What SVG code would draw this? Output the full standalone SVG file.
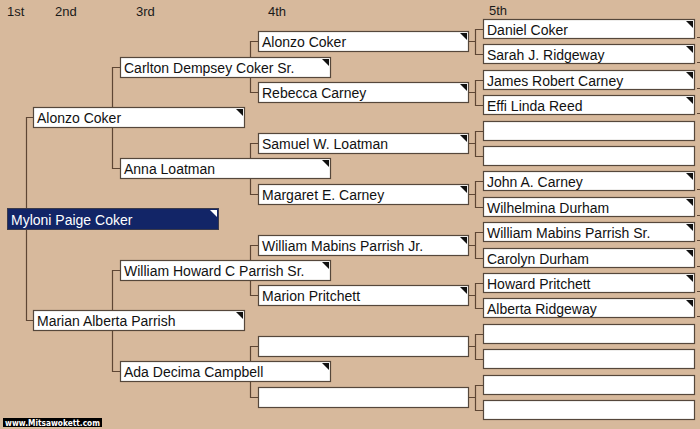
<svg xmlns="http://www.w3.org/2000/svg" width="700" height="429" viewBox="0 0 700 429">
<style>
.bg{fill:#d7b99c}
.hdr{font-family:"Liberation Sans",Arial,sans-serif;font-size:13px;fill:#1a1a1a}
.box{fill:#ffffff;stroke:#55473b;stroke-width:1.2}
.self{fill:#122567;stroke:#3a3a4a;stroke-width:1}
.nm{font-family:"Liberation Sans",Arial,sans-serif;font-size:14px;fill:#111111}
.nmw{font-family:"Liberation Sans",Arial,sans-serif;font-size:14px;fill:#ffffff}
.tri{fill:#111111}
.triw{fill:#ffffff}
.con{fill:none;stroke:#5e4634;stroke-width:1.2}
.wm{font-family:"DejaVu Sans",Verdana,sans-serif;font-size:8px;font-weight:bold;fill:#ffffff}
</style>
<rect class="bg" x="0" y="0" width="700" height="429"/>
<g id="headers">
<text class="hdr" x="7" y="16">1st</text>
<text class="hdr" x="55" y="16">2nd</text>
<text class="hdr" x="136" y="16">3rd</text>
<text class="hdr" x="268" y="16">4th</text>
<text class="hdr" x="489" y="15">5th</text>
</g>
<g id="connectors">
<path class="con" d="M33 117.5H26.5V320.5H33"/>
<path class="con" d="M120 67.5H112.5V168.5H120M120 270.5H112.5V371.5H120"/>
<path class="con" d="M258 41.5H250.5V92.5H258M258 143.5H250.5V194.5H258M258 245.5H250.5V295.5H258M258 346.5H250.5V397.5H258"/>
<path class="con" d="M468 41.5H475.5M483 29.5H475.5V54.5H483"/>
<path class="con" d="M468 92.5H475.5M483 80.5H475.5V105.5H483"/>
<path class="con" d="M468 143.5H475.5M483 131.5H475.5V156.5H483"/>
<path class="con" d="M468 194.5H475.5M483 181.5H475.5V207.5H483"/>
<path class="con" d="M468 245.5H475.5M483 232.5H475.5V258.5H483"/>
<path class="con" d="M468 295.5H475.5M483 283.5H475.5V308.5H483"/>
<path class="con" d="M468 346.5H475.5M483 334.5H475.5V359.5H483"/>
<path class="con" d="M468 397.5H475.5M483 385.5H475.5V410.5H483"/>
<path class="con" d="M697 37.5H700M697 62.5H700M697 88.5H700M697 113.5H700M697 189.5H700M697 215.5H700M697 240.5H700M697 266.5H700M697 291.5H700M697 316.5H700"/>
</g>
<g id="p1">
<rect class="self" x="7.5" y="208.5" width="211" height="21"/>
<polygon class="triw" points="210,210 217,210 217,217"/>
<text class="nmw" x="11" y="224.5">Myloni Paige Coker</text>
</g>
<g id="p2">
<rect class="box" x="33.5" y="107.5" width="211" height="20"/>
<polygon class="tri" points="236,109 243,109 243,116"/>
<text class="nm" x="37" y="122.5">Alonzo Coker</text>
</g>
<g id="p3">
<rect class="box" x="33.5" y="310.5" width="211" height="20"/>
<polygon class="tri" points="236,312 243,312 243,319"/>
<text class="nm" x="37" y="325.5">Marian Alberta Parrish</text>
</g>
<g id="p4">
<rect class="box" x="120.5" y="57.5" width="210" height="20"/>
<polygon class="tri" points="322,59 329,59 329,66"/>
<text class="nm" x="124" y="72.5">Carlton Dempsey Coker Sr.</text>
</g>
<g id="p5">
<rect class="box" x="120.5" y="158.5" width="210" height="20"/>
<polygon class="tri" points="322,160 329,160 329,167"/>
<text class="nm" x="124" y="173.5">Anna Loatman</text>
</g>
<g id="p6">
<rect class="box" x="120.5" y="260.5" width="210" height="20"/>
<polygon class="tri" points="322,262 329,262 329,269"/>
<text class="nm" x="124" y="275.5">William Howard C Parrish Sr.</text>
</g>
<g id="p7">
<rect class="box" x="120.5" y="361.5" width="210" height="20"/>
<polygon class="tri" points="322,363 329,363 329,370"/>
<text class="nm" x="124" y="376.5">Ada Decima Campbell</text>
</g>
<g id="p8">
<rect class="box" x="258.5" y="31.5" width="210" height="20"/>
<polygon class="tri" points="460,33 467,33 467,40"/>
<text class="nm" x="262" y="46.5">Alonzo Coker</text>
</g>
<g id="p9">
<rect class="box" x="258.5" y="82.5" width="210" height="20"/>
<polygon class="tri" points="460,84 467,84 467,91"/>
<text class="nm" x="262" y="97.5">Rebecca Carney</text>
</g>
<g id="p10">
<rect class="box" x="258.5" y="133.5" width="210" height="20"/>
<polygon class="tri" points="460,135 467,135 467,142"/>
<text class="nm" x="262" y="148.5">Samuel W. Loatman</text>
</g>
<g id="p11">
<rect class="box" x="258.5" y="184.5" width="210" height="20"/>
<polygon class="tri" points="460,186 467,186 467,193"/>
<text class="nm" x="262" y="199.5">Margaret E. Carney</text>
</g>
<g id="p12">
<rect class="box" x="258.5" y="235.5" width="210" height="20"/>
<polygon class="tri" points="460,237 467,237 467,244"/>
<text class="nm" x="262" y="250.5">William Mabins Parrish Jr.</text>
</g>
<g id="p13">
<rect class="box" x="258.5" y="285.5" width="210" height="20"/>
<polygon class="tri" points="460,287 467,287 467,294"/>
<text class="nm" x="262" y="300.5">Marion Pritchett</text>
</g>
<g id="p14">
<rect class="box" x="258.5" y="336.5" width="210" height="20"/>
</g>
<g id="p15">
<rect class="box" x="258.5" y="387.5" width="210" height="20"/>
</g>
<g id="p16">
<rect class="box" x="483.5" y="19.5" width="211" height="19"/>
<polygon class="tri" points="686,21 693,21 693,28"/>
<text class="nm" x="487" y="34.5">Daniel Coker</text>
</g>
<g id="p17">
<rect class="box" x="483.5" y="44.5" width="211" height="19"/>
<polygon class="tri" points="686,46 693,46 693,53"/>
<text class="nm" x="487" y="59.5">Sarah J. Ridgeway</text>
</g>
<g id="p18">
<rect class="box" x="483.5" y="70.5" width="211" height="19"/>
<polygon class="tri" points="686,72 693,72 693,79"/>
<text class="nm" x="487" y="85.5">James Robert Carney</text>
</g>
<g id="p19">
<rect class="box" x="483.5" y="95.5" width="211" height="19"/>
<polygon class="tri" points="686,97 693,97 693,104"/>
<text class="nm" x="487" y="110.5">Effi Linda Reed</text>
</g>
<g id="p20">
<rect class="box" x="483.5" y="121.5" width="211" height="19"/>
</g>
<g id="p21">
<rect class="box" x="483.5" y="146.5" width="211" height="19"/>
</g>
<g id="p22">
<rect class="box" x="483.5" y="171.5" width="211" height="19"/>
<polygon class="tri" points="686,173 693,173 693,180"/>
<text class="nm" x="487" y="186.5">John A. Carney</text>
</g>
<g id="p23">
<rect class="box" x="483.5" y="197.5" width="211" height="19"/>
<polygon class="tri" points="686,199 693,199 693,206"/>
<text class="nm" x="487" y="212.5">Wilhelmina Durham</text>
</g>
<g id="p24">
<rect class="box" x="483.5" y="222.5" width="211" height="19"/>
<polygon class="tri" points="686,224 693,224 693,231"/>
<text class="nm" x="487" y="237.5">William Mabins Parrish Sr.</text>
</g>
<g id="p25">
<rect class="box" x="483.5" y="248.5" width="211" height="19"/>
<polygon class="tri" points="686,250 693,250 693,257"/>
<text class="nm" x="487" y="263.5">Carolyn Durham</text>
</g>
<g id="p26">
<rect class="box" x="483.5" y="273.5" width="211" height="19"/>
<polygon class="tri" points="686,275 693,275 693,282"/>
<text class="nm" x="487" y="288.5">Howard Pritchett</text>
</g>
<g id="p27">
<rect class="box" x="483.5" y="298.5" width="211" height="19"/>
<polygon class="tri" points="686,300 693,300 693,307"/>
<text class="nm" x="487" y="313.5">Alberta Ridgeway</text>
</g>
<g id="p28">
<rect class="box" x="483.5" y="324.5" width="211" height="19"/>
</g>
<g id="p29">
<rect class="box" x="483.5" y="349.5" width="211" height="19"/>
</g>
<g id="p30">
<rect class="box" x="483.5" y="375.5" width="211" height="19"/>
</g>
<g id="p31">
<rect class="box" x="483.5" y="400.5" width="211" height="19"/>
</g>
<g id="watermark">
<rect x="3" y="418" width="99" height="9" fill="#000000"/>
<text class="wm" x="5" y="425.5" textLength="95" lengthAdjust="spacingAndGlyphs">www.Mitsawokett.com</text>
</g>
</svg>
